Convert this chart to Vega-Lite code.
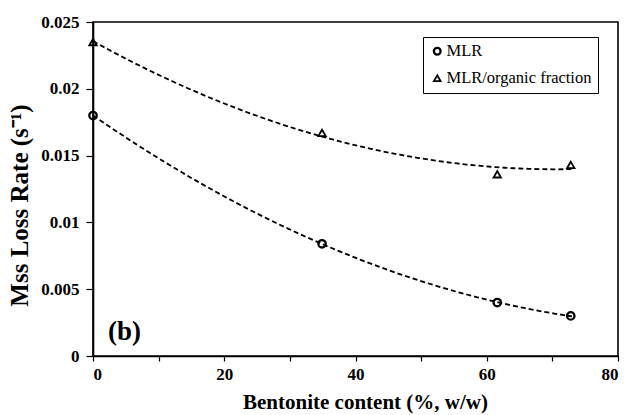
{
  "$schema": "https://vega.github.io/schema/vega-lite/v6.json",
  "width": 525,
  "height": 334,
  "autosize": "none",
  "padding": {"left": 93, "top": 22, "right": 12, "bottom": 59},
  "background": "white",
  "config": {
    "view": {"stroke": "black", "strokeWidth": 1.6},
    "font": "Liberation Serif",
    "axis": {
      "domainColor": "black", "domainWidth": 1.6, "tickColor": "black", "tickWidth": 1.2,
      "labelFont": "Liberation Serif", "labelFontWeight": "bold", "labelFontSize": 17, "labelColor": "black",
      "titleFont": "Liberation Serif", "titleFontWeight": "bold", "titleColor": "black",
      "grid": false
    }
  },
  "data": {
    "values": [
      {"bentonite": 0, "rate": 0.0180, "series": "MLR"},
      {"bentonite": 34.9, "rate": 0.0084, "series": "MLR"},
      {"bentonite": 61.6, "rate": 0.0040, "series": "MLR"},
      {"bentonite": 72.8, "rate": 0.0030, "series": "MLR"},
      {"bentonite": 0, "rate": 0.0235, "series": "MLR/organic fraction"},
      {"bentonite": 34.9, "rate": 0.0167, "series": "MLR/organic fraction"},
      {"bentonite": 61.6, "rate": 0.0136, "series": "MLR/organic fraction"},
      {"bentonite": 72.8, "rate": 0.0143, "series": "MLR/organic fraction"}
    ]
  },
  "layer": [
    {
      "transform": [
        {"regression": "rate", "on": "bentonite", "groupby": ["series"], "method": "poly", "order": 2, "extent": [0, 73]}
      ],
      "mark": {"type": "line", "color": "black", "strokeWidth": 1.8, "strokeDash": [5, 3]},
      "encoding": {
        "x": {"field": "bentonite", "type": "quantitative"},
        "y": {"field": "rate", "type": "quantitative"},
        "detail": {"field": "series"}
      }
    },
    {
      "mark": {"type": "point", "filled": false, "color": "black", "size": 55, "opacity": 1},
      "encoding": {
        "x": {
          "field": "bentonite", "type": "quantitative",
          "scale": {"domain": [0, 80], "nice": false},
          "axis": {
            "title": "Bentonite content (%, w/w)",
            "titleFontSize": 21,
            "titleX": 272,
            "values": [0, 10, 20, 30, 40, 50, 60, 70, 80],
            "labelExpr": "datum.value % 20 == 0 ? datum.label : ''",
            "tickSize": 5, "labelPadding": 5, "titlePadding": 9
          }
        },
        "y": {
          "field": "rate", "type": "quantitative",
          "scale": {"domain": [0, 0.025], "nice": false},
          "axis": {
            "title": "Mss Loss Rate (s⁻¹)",
            "titleFontSize": 25,
            "titleY": 183,
            "values": [0, 0.0025, 0.005, 0.0075, 0.01, 0.0125, 0.015, 0.0175, 0.02, 0.0225, 0.025],
            "format": "~g",
            "labelExpr": "abs(round(datum.value * 10000) % 50) < 1 ? datum.label : ''",
            "tickSize": {"expr": "abs(round(datum.value * 10000) % 50) < 1 ? 7 : 4"},
            "labelPadding": 7, "titlePadding": 8
          }
        },
        "shape": {
          "field": "series", "type": "nominal",
          "scale": {"domain": ["MLR", "MLR/organic fraction"], "range": ["circle", "triangle-up"]},
          "legend": {
            "title": null, "orient": "none", "legendX": 330, "legendY": 15,
            "strokeColor": "black", "padding": 6, "labelFont": "Liberation Serif",
            "labelFontSize": 16.5, "labelColor": "black", "symbolStrokeColor": "black",
            "symbolFillColor": "transparent", "symbolSize": 45, "rowPadding": 10, "labelOffset": 1
          }
        },
        "strokeWidth": {
          "field": "series", "type": "nominal",
          "scale": {"type": "ordinal", "domain": ["MLR", "MLR/organic fraction"], "range": [2.3, 1.8]}
        }
      }
    },
    {
      "data": {"values": [{"x": 2.3, "y": 0.0012, "label": "(b)"}]},
      "mark": {"type": "text", "align": "left", "baseline": "alphabetic", "font": "Liberation Serif", "fontWeight": "bold", "fontSize": 27, "color": "black"},
      "encoding": {
        "x": {"field": "x", "type": "quantitative"},
        "y": {"field": "y", "type": "quantitative"},
        "text": {"field": "label"}
      }
    }
  ]
}
